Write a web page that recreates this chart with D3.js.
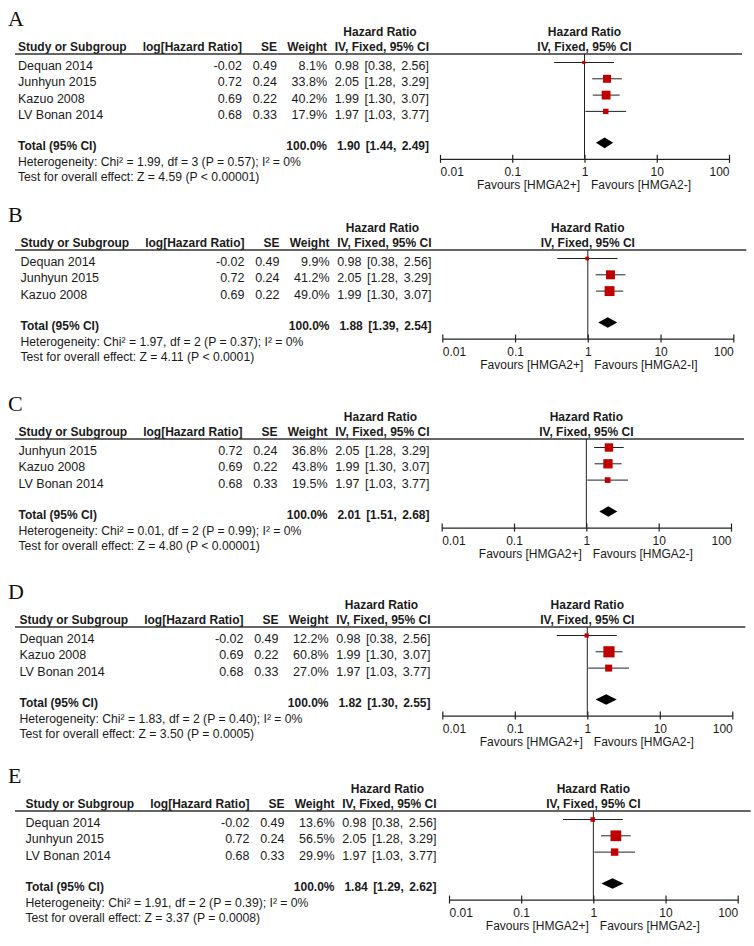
<!DOCTYPE html>
<html>
<head>
<meta charset="utf-8">
<script src="https://cdn.jsdelivr.net/npm/d3@7"></script>
<style>
  body { margin: 0; background: #fff; }
  svg text { font-family: Arial, "Liberation Sans", sans-serif; font-size: 12.5px; fill: #1a1a1a; }
  svg text.bold { font-weight: bold; font-size: 12px; }
  svg text.note { font-size: 12.2px; }
  svg .tick text { font-size: 12px; }
  svg text.panel-letter { font-family: "Liberation Serif", "DejaVu Serif", serif; font-size: 22px; fill: #111; }
</style>
</head>
<body>
<div id="chart"></div>
<script>
// studies shared by all panels
const studyNames = ["Dequan 2014", "Junhyun 2015", "Kazuo 2008", "LV Bonan 2014"];
const logHR = ["-0.02", "0.72", "0.69", "0.68"];
const seValues = ["0.49", "0.24", "0.22", "0.33"];
const hrValues = [0.98, 2.05, 1.99, 1.97];
const ciLower = [0.38, 1.28, 1.30, 1.03];
const ciUpper = [2.56, 3.29, 3.07, 3.77];

// panels
const panelLabels = ["A", "B", "C", "D", "E"];
const panelStudies = [[0, 1, 2, 3], [0, 1, 2], [1, 2, 3], [0, 2, 3], [0, 1, 3]];
const panelWeights = [
  [8.1, 33.8, 40.2, 17.9],
  [9.9, 41.2, 49.0],
  [36.8, 43.8, 19.5],
  [12.2, 60.8, 27.0],
  [13.6, 56.5, 29.9],
];
const totalHR = [1.90, 1.88, 2.01, 1.82, 1.84];
const totalLower = [1.44, 1.39, 1.51, 1.30, 1.29];
const totalUpper = [2.49, 2.54, 2.68, 2.55, 2.62];
const heterogeneity = [
  "Heterogeneity: Chi² = 1.99, df = 3 (P = 0.57); I² = 0%",
  "Heterogeneity: Chi² = 1.97, df = 2 (P = 0.37); I² = 0%",
  "Heterogeneity: Chi² = 0.01, df = 2 (P = 0.99); I² = 0%",
  "Heterogeneity: Chi² = 1.83, df = 2 (P = 0.40); I² = 0%",
  "Heterogeneity: Chi² = 1.91, df = 2 (P = 0.39); I² = 0%",
];
const overallEffect = [
  "Test for overall effect: Z = 4.59 (P < 0.00001)",
  "Test for overall effect: Z = 4.11 (P < 0.0001)",
  "Test for overall effect: Z = 4.80 (P < 0.00001)",
  "Test for overall effect: Z = 3.50 (P = 0.0005)",
  "Test for overall effect: Z = 3.37 (P = 0.0008)",
];
const favoursLeft = "Favours [HMGA2+]";
const favoursRight = ["Favours [HMGA2-]", "Favours [HMGA2-I]", "Favours [HMGA2-]", "Favours [HMGA2-]", "Favours [HMGA2-]"];
const axisTicks = [0.01, 0.1, 1, 10, 100];
const tickLabels = ["0.01", "0.1", "1", "10", "100"];

// layout of each panel (pixels)
const panelTop = [0, 196, 385, 573, 757];
const panelShift = [0, 2.5, 0.5, 1.5, 7.5];
const axisLeft = [440, 442.3, 441.7, 442.3, 449];
const axisRight = [729, 733.3, 731, 732.3, 737.7];
const col = { study: 18, logHR: 242, se: 277, weight: 327, ci: 429 };
const rowStep = 16.3;

const svg = d3.select("#chart")
  .append("svg")
  .attr("width", 754)
  .attr("height", 946);

// square side from study weight
const boxSize = d3.scaleSqrt().domain([5, 61]).range([2.2, 11.2]);

panelLabels.forEach(function (label, p) {
  const top = panelTop[p];
  const rows = panelStudies[p].map((s, i) => ({
    name: studyNames[s],
    logHR: logHR[s],
    se: seValues[s],
    hr: hrValues[s],
    lo: ciLower[s],
    hi: ciUpper[s],
    weight: panelWeights[p][i],
    i: i,
  }));

  const x = d3.scaleLog().domain([0.01, 100]).range([axisLeft[p], axisRight[p]]);
  const y = d3.scaleLinear().domain([0, 1]).range([70, 70 + rowStep]);
  const totalY = y(rows.length + 0.9);
  const axisY = totalY + 9;
  const headerLineY = 54;

  const g = svg.append("g").attr("transform", `translate(0, ${top})`);
  const t = g.append("g").attr("transform", `translate(${panelShift[p]}, 0)`);

  // panel letter
  g.append("text").attr("class", "panel-letter").attr("x", 8).attr("y", 26).text(label);

  // header
  t.append("text").attr("class", "bold").attr("x", col.ci - 49).attr("y", 36)
    .attr("text-anchor", "middle").text("Hazard Ratio");
  g.append("text").attr("class", "bold").attr("x", x(1)).attr("y", 36)
    .attr("text-anchor", "middle").text("Hazard Ratio");
  const heads = [
    { text: "Study or Subgroup", x: col.study, anchor: "start" },
    { text: "log[Hazard Ratio]", x: col.logHR, anchor: "end" },
    { text: "SE", x: col.se, anchor: "end" },
    { text: "Weight", x: col.weight, anchor: "end" },
    { text: "IV, Fixed, 95% CI", x: col.ci, anchor: "end" },
  ];
  t.selectAll(null).data(heads).join("text")
    .attr("class", "bold")
    .attr("x", (d) => d.x)
    .attr("y", 51)
    .attr("text-anchor", (d) => d.anchor)
    .text((d) => d.text);
  g.append("text").attr("class", "bold").attr("x", x(1)).attr("y", 51)
    .attr("text-anchor", "middle").text("IV, Fixed, 95% CI");

  g.append("line")
    .attr("x1", 15).attr("x2", axisRight[p] + 13)
    .attr("y1", headerLineY).attr("y2", headerLineY)
    .attr("stroke", "#333").attr("stroke-width", 1.4);

  // study rows
  const fmt = d3.format(".2f");
  rows.forEach(function (d) {
    const by = y(d.i);
    t.append("text").attr("x", col.study).attr("y", by).text(d.name);
    t.append("text").attr("x", col.logHR).attr("y", by).attr("text-anchor", "end").text(d.logHR);
    t.append("text").attr("x", col.se).attr("y", by).attr("text-anchor", "end").text(d.se);
    t.append("text").attr("x", col.weight).attr("y", by).attr("text-anchor", "end").text(d.weight.toFixed(1) + "%");
    t.append("text").attr("x", col.ci).attr("y", by).attr("text-anchor", "end")
      .style("word-spacing", "2px")
      .text(`${fmt(d.hr)} [${fmt(d.lo)}, ${fmt(d.hi)}]`);
  });

  // total row
  t.append("text").attr("class", "bold").attr("x", col.study).attr("y", totalY).text("Total (95% CI)");
  t.append("text").attr("class", "bold").attr("x", col.weight).attr("y", totalY)
    .attr("text-anchor", "end").text("100.0%");
  t.append("text").attr("class", "bold").attr("x", col.ci).attr("y", totalY)
    .attr("text-anchor", "end").style("word-spacing", "2px")
    .text(`${fmt(totalHR[p])} [${fmt(totalLower[p])}, ${fmt(totalUpper[p])}]`);
  t.append("text").attr("class", "note").attr("x", col.study).attr("y", totalY + 16).text(heterogeneity[p]);
  t.append("text").attr("class", "note").attr("x", col.study).attr("y", totalY + 31.5).text(overallEffect[p]);

  // null line
  g.append("line")
    .attr("x1", x(1)).attr("x2", x(1))
    .attr("y1", headerLineY).attr("y2", axisY)
    .attr("stroke", "#222").attr("stroke-width", 1);

  // confidence intervals and boxes
  g.selectAll(null).data(rows).join("line")
    .attr("x1", (d) => x(d.lo)).attr("x2", (d) => x(d.hi))
    .attr("y1", (d) => y(d.i) - 7.5).attr("y2", (d) => y(d.i) - 7.5)
    .attr("stroke", "#222").attr("stroke-width", 1);
  g.selectAll(null).data(rows).join("rect")
    .attr("x", (d) => x(d.hr) - boxSize(d.weight) / 2)
    .attr("y", (d) => y(d.i) - 7.5 - boxSize(d.weight) / 2)
    .attr("width", (d) => boxSize(d.weight))
    .attr("height", (d) => boxSize(d.weight))
    .attr("fill", "#c00000");

  // pooled diamond
  const dy = totalY - 7;
  g.append("path")
    .attr("d", `M${x(totalLower[p])},${dy}L${x(totalHR[p])},${dy - 5.3}L${x(totalUpper[p])},${dy}L${x(totalHR[p])},${dy + 5.3}Z`)
    .attr("fill", "#000");

  // axis
  const axis = d3.axisBottom(x)
    .tickValues(axisTicks)
    .tickFormat((d, i) => tickLabels[i])
    .tickSize(4)
    .tickSizeOuter(0);
  const ag = g.append("g").attr("transform", `translate(0, ${axisY})`).call(axis);
  ag.select(".domain").attr("stroke", "#222").attr("stroke-width", 1.2);
  ag.selectAll(".tick line").attr("y1", -4).attr("y2", 4).attr("stroke", "#222").attr("stroke-width", 1.2);
  ag.selectAll(".tick text")
    .attr("y", 17).attr("dy", null)
    .attr("text-anchor", (d, i) => (i === 0 ? "start" : i === axisTicks.length - 1 ? "end" : "middle"));

  g.append("text").attr("x", x(1) - 4.5).attr("y", axisY + 30.5)
    .attr("text-anchor", "end").style("font-size", "12px").text(favoursLeft);
  g.append("text").attr("x", x(1) + 6.5).attr("y", axisY + 30.5)
    .style("font-size", "12px").text(favoursRight[p]);
});
</script>
</body>
</html>
